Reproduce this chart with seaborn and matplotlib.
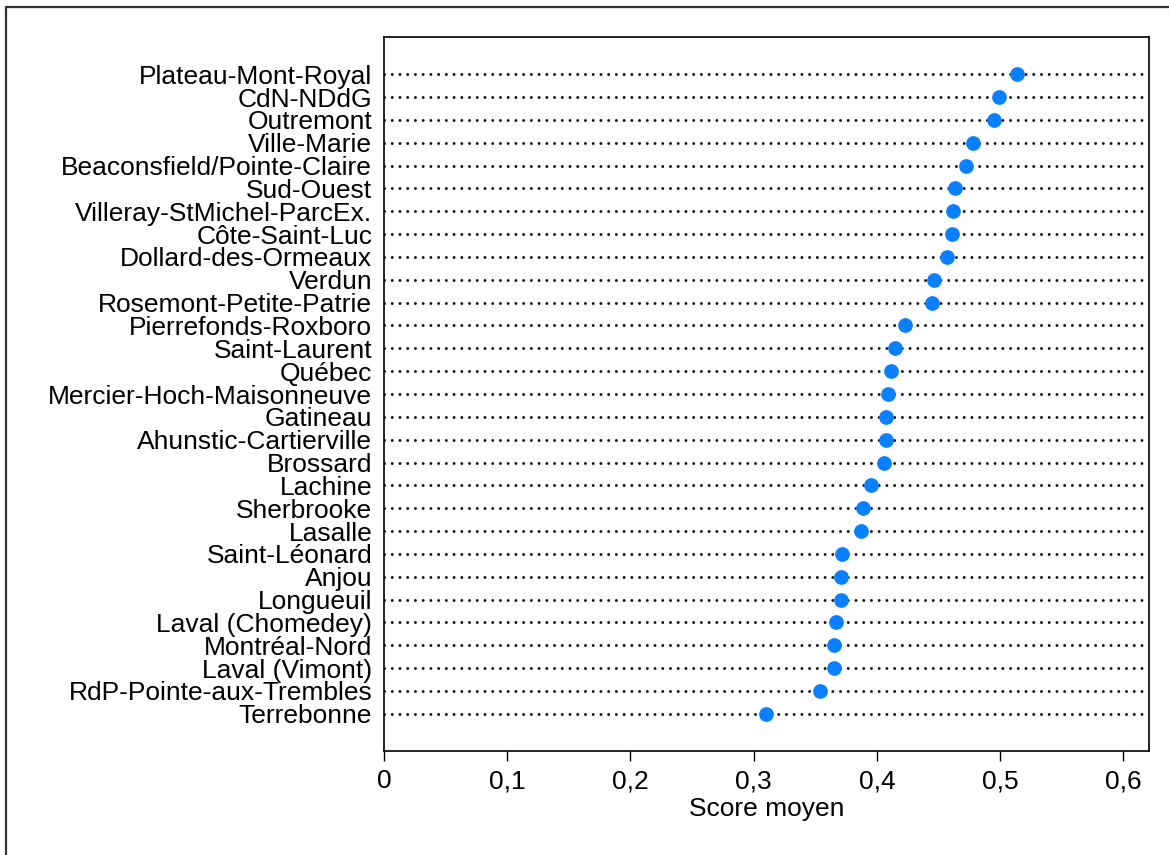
import matplotlib
matplotlib.use("Agg")
import matplotlib.pyplot as plt
from matplotlib.lines import Line2D
import seaborn as sns
import pandas as pd

categories = [
    "Plateau-Mont-Royal", "CdN-NDdG", "Outremont", "Ville-Marie",
    "Beaconsfield/Pointe-Claire", "Sud-Ouest", "Villeray-StMichel-ParcEx.",
    "Côte-Saint-Luc", "Dollard-des-Ormeaux", "Verdun", "Rosemont-Petite-Patrie",
    "Pierrefonds-Roxboro", "Saint-Laurent", "Québec", "Mercier-Hoch-Maisonneuve",
    "Gatineau", "Ahunstic-Cartierville", "Brossard", "Lachine", "Sherbrooke",
    "Lasalle", "Saint-Léonard", "Anjou", "Longueuil", "Laval (Chomedey)",
    "Montréal-Nord", "Laval (Vimont)", "RdP-Pointe-aux-Trembles", "Terrebonne",
]
scores = [
    0.514, 0.499, 0.495, 0.478, 0.472, 0.463, 0.462, 0.461, 0.457, 0.446,
    0.445, 0.423, 0.415, 0.411, 0.409, 0.407, 0.407, 0.406, 0.395, 0.389,
    0.387, 0.372, 0.371, 0.371, 0.367, 0.365, 0.365, 0.354, 0.310,
]
x_ticks = [0, 0.1, 0.2, 0.3, 0.4, 0.5, 0.6]
x_tick_labels = ["0", "0,1", "0,2", "0,3", "0,4", "0,5", "0,6"]
x_label = "Score moyen"

df = pd.DataFrame({"cat": categories, "score": scores})

sns.set_style("white")
plt.rcParams["font.family"] = ["Liberation Sans", "DejaVu Sans"]

W, H = 1169, 855
fig = plt.figure(figsize=(W / 100, H / 100), dpi=100)
ax = fig.add_axes([384 / W, 1 - 751 / H, (1149 - 384) / W, (751 - 37) / H])

n = len(categories)
for i in range(n):
    ax.axhline(i, color="black", lw=2.1, linestyle=(0, (0.01, 2.64)),
               dash_capstyle="round", zorder=1)

sns.stripplot(data=df, x="score", y="cat", order=categories, jitter=False,
              color="#0A7FFF", size=10.6, linewidth=0, ax=ax, zorder=3)

ax.set_xlim(0, 0.6207)
ax.set_ylim(n - 1 + 1.63, -1.63)
ax.set_xticks(x_ticks)
ax.set_xticklabels(x_tick_labels)
ax.set_xlabel(x_label, fontsize=19, labelpad=3, color="black")
ax.set_ylabel("")
ax.tick_params(axis="x", direction="out", length=7, width=1, color="black",
               labelsize=19, pad=6, labelcolor="black", bottom=True)
ax.tick_params(axis="y", length=0, labelsize=19, pad=8.5, labelcolor="black")
for s in ax.spines.values():
    s.set_visible(True)
    s.set_color("black")
    s.set_linewidth(1.2)
ax.grid(False)

# figure frame
fig.add_artist(Line2D([6 / W, 6 / W], [0, 1 - 7 / H], color="#333333", lw=1.6,
                      transform=fig.transFigure))
fig.add_artist(Line2D([6 / W, 1], [1 - 7 / H, 1 - 7 / H], color="#333333", lw=1.6,
                      transform=fig.transFigure))

fig.savefig("out.png", dpi=100)
